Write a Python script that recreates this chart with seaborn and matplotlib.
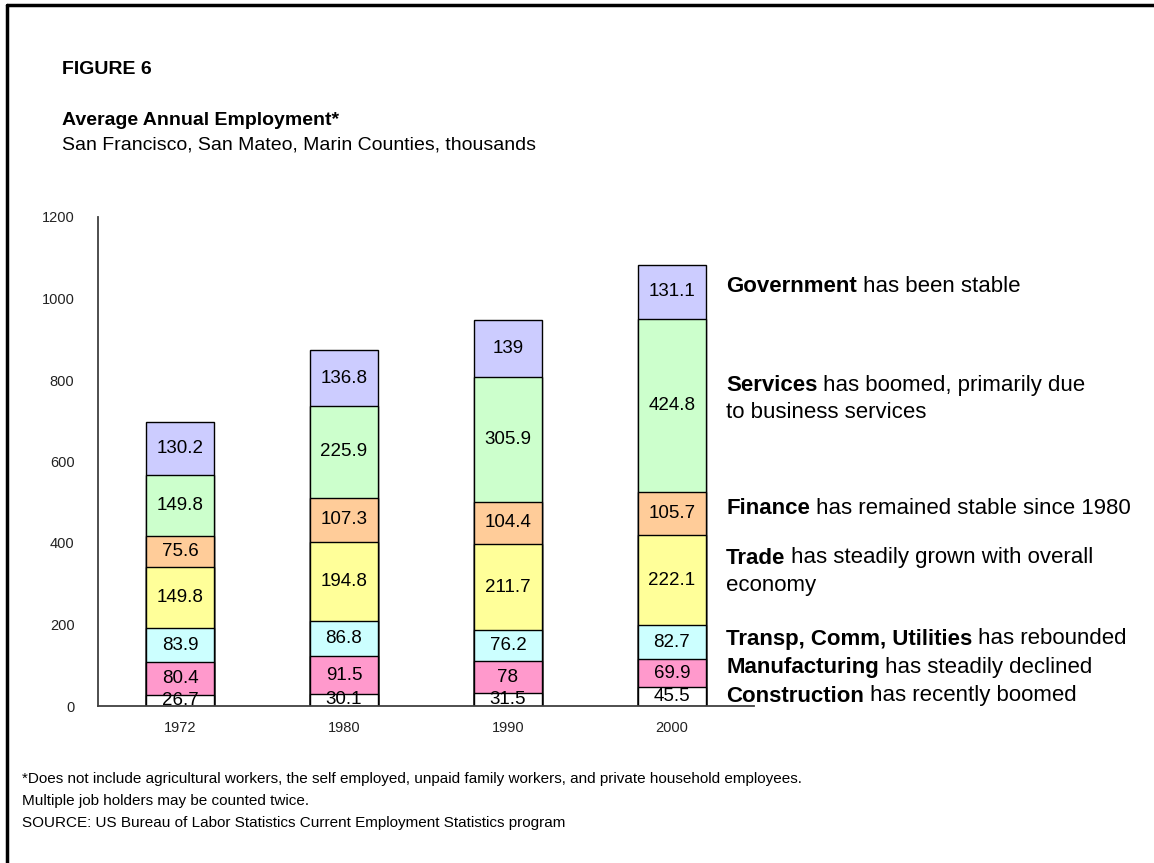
import numpy as np
import pandas as pd
import matplotlib
matplotlib.use("Agg")
import matplotlib.pyplot as plt
import seaborn as sns
from matplotlib.lines import Line2D

sns.set_style("white")
plt.rcParams['font.family'] = ['Liberation Sans', 'DejaVu Sans']
plt.rcParams['text.color'] = 'black'

# data (thousands of jobs)
years = ["1972", "1980", "1990", "2000"]
sectors = ["Construction", "Manufacturing", "Transp, Comm, Utilities",
           "Trade", "Finance", "Services", "Government"]
construction = [26.7, 30.1, 31.5, 45.5]
manufacturing = [80.4, 91.5, 78, 69.9]
transp = [83.9, 86.8, 76.2, 82.7]
trade = [149.8, 194.8, 211.7, 222.1]
finance = [75.6, 107.3, 104.4, 105.7]
services = [149.8, 225.9, 305.9, 424.8]
government = [130.2, 136.8, 139, 131.1]
colors = ["#FFFFFF", "#FF99CC", "#CCFFFF", "#FFFF99", "#FFCC99", "#CCFFCC", "#CCCCFF"]
yticks = [0, 200, 400, 600, 800, 1000, 1200]

# notes on the right: (bold part, rest, second line, y pixel)
notes = [
    ("Government", " has been stable", None, 287),
    ("Services", " has boomed, primarily due", "to business services", 385),
    ("Finance", " has remained stable since 1980", None, 508),
    ("Trade", " has steadily grown with overall", "economy", 558),
    ("Transp, Comm, Utilities", " has rebounded", None, 639),
    ("Manufacturing", " has steadily declined", None, 667),
    ("Construction", " has recently boomed", None, 696),
]

values = [construction, manufacturing, transp, trade, finance, services, government]
rows = []
for s, vals in zip(sectors, values):
    for y, v in zip(years, vals):
        rows.append({"sector": s, "year": y, "value": v})
df = pd.DataFrame(rows)
df["top"] = df.groupby("year")["value"].cumsum()
df["bottom"] = df["top"] - df["value"]

W, H = 1154, 863
fig = plt.figure(figsize=(W / 100, H / 100), dpi=100)
ax = fig.add_axes([98 / W, 1 - 706 / H, (754 - 98) / W, (706 - 217) / H])

# stacked bars: draw cumulative totals from the top layer down
for s, c in reversed(list(zip(sectors, colors))):
    sub = df[df["sector"] == s]
    sns.barplot(data=sub, x="year", y="top", order=years, color=c, saturation=1,
                edgecolor="black", linewidth=1, width=0.41, errorbar=None, ax=ax)

for _, r in df.iterrows():
    ax.text(years.index(r["year"]), r["bottom"] + r["value"] / 2, f"{r['value']:g}",
            ha="center", va="center", fontsize=13.5, color="black")

ax.set_xlim(-0.5, 3.5)
ax.set_ylim(0, 1200)
ax.set_yticks(yticks)
ax.set_yticklabels([str(t) for t in yticks])
ax.set_xticks(np.arange(-0.5, 4, 1))
ax.set_xticklabels([])
ax.set_xticks(range(len(years)), minor=True)
ax.set_xticklabels(years, minor=True)
ax.tick_params(axis="x", which="major", length=5, width=1, color="#404040", direction="out")
ax.tick_params(axis="x", which="minor", length=0, pad=11, labelsize=10.5, labelcolor="#222222")
ax.tick_params(axis="y", length=6, width=1, color="#404040", direction="out",
               labelsize=10.5, labelcolor="#222222", pad=11)
ax.set_xlabel("")
ax.set_ylabel("")
sns.despine(ax=ax)
for sp in ["left", "bottom"]:
    ax.spines[sp].set_color("#404040")
    ax.spines[sp].set_linewidth(1.3)

# titles
fig.text(62 / W, 1 - 70 / H, "FIGURE 6", fontsize=14, fontweight="bold", va="center")
fig.text(62 / W, 1 - 120 / H, "Average Annual Employment*", fontsize=14,
         fontweight="bold", va="center")
fig.text(62 / W, 1 - 145 / H, "San Francisco, San Mateo, Marin Counties, thousands",
         fontsize=14, va="center")

# notes
for bold, rest, line2, ypix in notes:
    t = fig.text(726 / W, 1 - ypix / H, bold, fontsize=16, fontweight="bold", va="center")
    ax.annotate(rest, xy=(1, 0.5), xycoords=t, va="center", ha="left", fontsize=16,
                annotation_clip=False)
    if line2:
        fig.text(726 / W, 1 - (ypix + 27) / H, line2, fontsize=16, va="center")

# footnote
foot = ["*Does not include agricultural workers, the self employed, unpaid family workers, and private household employees.",
        "Multiple job holders may be counted twice.",
        "SOURCE: US Bureau of Labor Statistics Current Employment Statistics program"]
for i, line in enumerate(foot):
    fig.text(22 / W, 1 - (779 + 22 * i) / H, line, fontsize=11, va="center")

# frame lines (top and left)
fig.add_artist(Line2D([7 / W, 1], [1 - 5 / H, 1 - 5 / H], color="black", lw=2.5,
                      transform=fig.transFigure))
fig.add_artist(Line2D([7 / W, 7 / W], [0, 1 - 5 / H], color="black", lw=2.5,
                      transform=fig.transFigure))

fig.savefig("out.png", dpi=100)
